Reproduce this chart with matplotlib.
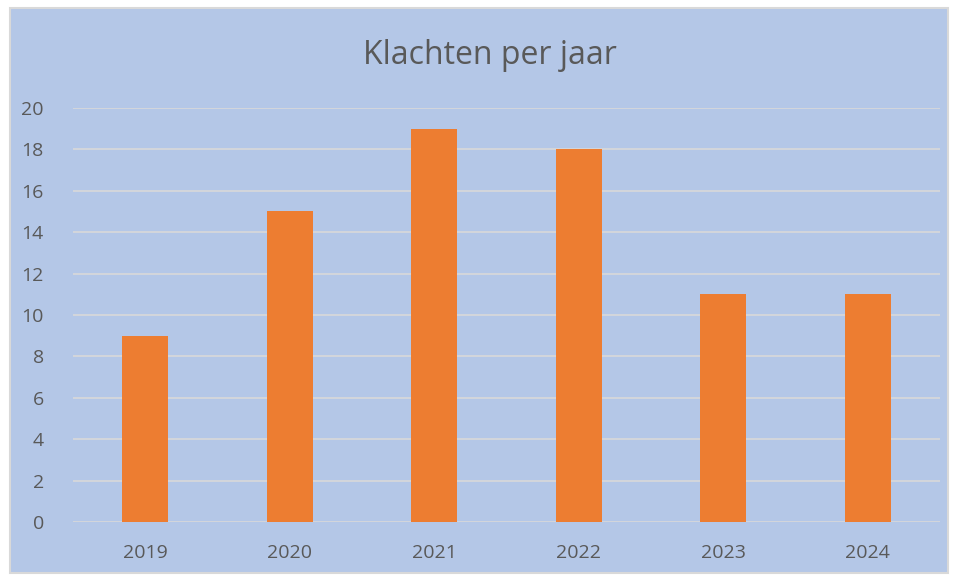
import matplotlib.pyplot as plt
from matplotlib.patches import Rectangle

years = ['2019', '2020', '2021', '2022', '2023', '2024']
klachten = [9, 15, 19, 18, 11, 11]
y_ticks = list(range(0, 21, 2))

bg = '#B4C7E7'
text_grey = '#595959'

fig = plt.figure(figsize=(9.57, 5.81), dpi=100)
fig.patch.set_facecolor('white')

# chart area with grey border (behind the axes)
fig.patches.append(Rectangle((10 / 957, 1 - 573 / 581), 938 / 957, 565 / 581,
                             transform=fig.transFigure, facecolor=bg,
                             edgecolor='#D9D9D9', linewidth=1.5, zorder=-5))

ax = fig.add_axes([73 / 957, 1 - 522 / 581, 867 / 957, 414 / 581])
ax.set_facecolor('none')

x = range(len(years))
ax.bar(x, klachten, width=0.32, color='#ED7D31', zorder=3)

ax.set_xlim(-0.5, len(years) - 0.5)
ax.set_ylim(0, 20)
ax.set_yticks(y_ticks)
ax.set_xticks(list(x))
ax.set_xticklabels(years)
ax.grid(axis='y', color='#D9D9D9', linewidth=1.2, zorder=0)
for s in ax.spines.values():
    s.set_visible(False)
ax.tick_params(length=0, labelsize=14, colors=text_grey)
ax.tick_params(axis='x', pad=16)
ax.tick_params(axis='y', pad=21)
for lab in ax.get_xticklabels() + ax.get_yticklabels():
    lab.set_fontfamily('Open Sans')

fig.text(490 / 957, 1 - 55 / 581, 'Klachten per jaar', ha='center', va='center',
         fontsize=23, color=text_grey, family='Open Sans')

fig.savefig('out.png', dpi=100)
